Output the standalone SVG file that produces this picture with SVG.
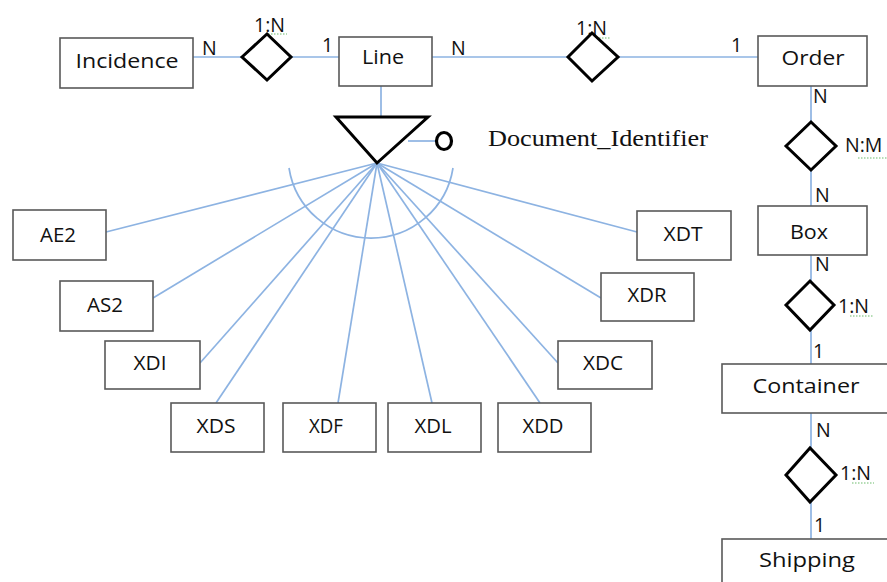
<svg xmlns="http://www.w3.org/2000/svg" width="887" height="582" viewBox="0 0 887 582">
<style>
.ent{fill:#fff;stroke:#595959;stroke-width:1.6}
.rel{fill:#fff;stroke:#000;stroke-width:3;stroke-linejoin:miter}
.con{stroke:#8db3e2;stroke-width:1.7;fill:none}
.t{font-family:"Open Sans","Lato",sans-serif;font-size:20px;fill:#111;text-anchor:middle}
.l{font-family:"Open Sans","Lato",sans-serif;font-size:19.5px;fill:#111}
.g{stroke:#6dbb6d;stroke-width:1.2;stroke-dasharray:1.5 1.5;fill:none}
.s{font-family:"Liberation Serif","Times New Roman",serif;font-size:23px;fill:#111}
</style>
<rect width="887" height="582" fill="#fff"/>
<g id="connectors">
<line class="con" x1="193" y1="57" x2="242" y2="57"/>
<line class="con" x1="291" y1="57" x2="339" y2="57"/>
<line class="con" x1="432" y1="57" x2="568" y2="57"/>
<line class="con" x1="618" y1="57" x2="758" y2="57"/>
<line class="con" x1="811" y1="86" x2="811" y2="122"/>
<line class="con" x1="811" y1="170" x2="811" y2="206"/>
<line class="con" x1="811" y1="255" x2="811" y2="281"/>
<line class="con" x1="811" y1="330" x2="811" y2="364"/>
<line class="con" x1="811" y1="413" x2="811" y2="448"/>
<line class="con" x1="811" y1="502" x2="811" y2="539"/>
<line class="con" x1="381" y1="86" x2="381" y2="117"/>
<line class="con" x1="408" y1="141" x2="436" y2="141"/>
<line class="con" x1="377" y1="163" x2="106" y2="232"/>
<line class="con" x1="377" y1="163" x2="153" y2="298"/>
<line class="con" x1="377" y1="163" x2="200" y2="363"/>
<line class="con" x1="377" y1="163" x2="216" y2="403"/>
<line class="con" x1="377" y1="163" x2="338" y2="403"/>
<line class="con" x1="377" y1="163" x2="432" y2="403"/>
<line class="con" x1="377" y1="163" x2="540" y2="403"/>
<line class="con" x1="377" y1="163" x2="558" y2="363"/>
<line class="con" x1="377" y1="163" x2="601" y2="298"/>
<line class="con" x1="377" y1="163" x2="637" y2="232"/>
<path class="con" d="M289 168 A83 83 0 0 0 453 168"/>
</g>
<g id="labels">
<text class="l" x="202" y="55">N</text>
<text class="l" x="322" y="52">1</text>
<text class="l" x="254" y="32">1:N</text>
<line class="g" x1="268" y1="34" x2="287" y2="34"/>
<text class="l" x="451" y="55">N</text>
<text class="l" x="731" y="52">1</text>
<text class="l" x="576" y="35">1:N</text>
<line class="g" x1="593" y1="38" x2="610" y2="38"/>
<text class="l" x="813" y="103">N</text>
<text class="l" x="845" y="152">N:M</text>
<line class="g" x1="858" y1="158" x2="887" y2="158"/>
<text class="l" x="815" y="202">N</text>
<text class="l" x="815" y="271">N</text>
<text class="l" x="838" y="313">1:N</text>
<line class="g" x1="850" y1="316" x2="873" y2="316"/>
<text class="l" x="813" y="358">1</text>
<text class="l" x="816" y="437">N</text>
<text class="l" x="840" y="480">1:N</text>
<line class="g" x1="852" y1="483" x2="874" y2="483"/>
<text class="l" x="814" y="532">1</text>
<text class="s" x="488" y="146" textLength="220" lengthAdjust="spacingAndGlyphs">Document_Identifier</text>
</g>
<g id="rel1"><polygon class="rel" points="242,57 267,34 291,57 267,80"/></g>
<g id="rel2"><polygon class="rel" points="568,57 592,33 618,57 592,81"/></g>
<g id="rel3"><polygon class="rel" points="786,146 811,122 836,146 811,170"/></g>
<g id="rel4"><polygon class="rel" points="786,305 810,281 834,305 810,330"/></g>
<g id="rel5"><polygon class="rel" points="786,475 810,448 836,475 810,502"/></g>
<g id="isa"><polygon class="rel" points="336,117 428,117 377,163"/><ellipse cx="444" cy="141" rx="7.5" ry="8.5" fill="none" stroke="#000" stroke-width="3.2"/></g>
<g id="incidence"><rect class="ent" x="60" y="38" width="133" height="50"/><text class="t" x="127" y="68" textLength="103" lengthAdjust="spacingAndGlyphs">Incidence</text></g>
<g id="line"><rect class="ent" x="339" y="37" width="93" height="49"/><text class="t" x="383" y="64" textLength="42" lengthAdjust="spacingAndGlyphs">Line</text></g>
<g id="order"><rect class="ent" x="758" y="36" width="109" height="50"/><text class="t" x="813" y="65" textLength="63" lengthAdjust="spacingAndGlyphs">Order</text></g>
<g id="box"><rect class="ent" x="758" y="206" width="109" height="49"/><text class="t" x="809" y="239" textLength="38" lengthAdjust="spacingAndGlyphs">Box</text></g>
<g id="container"><rect class="ent" x="722" y="364" width="180" height="49"/><text class="t" x="806" y="393" textLength="107" lengthAdjust="spacingAndGlyphs">Container</text></g>
<g id="shipping"><rect class="ent" x="722" y="539" width="180" height="60"/><text class="t" x="807" y="567" textLength="96" lengthAdjust="spacingAndGlyphs">Shipping</text></g>
<g id="ae2"><rect class="ent" x="13" y="210" width="93" height="50"/><text class="t" x="58" y="242" textLength="36" lengthAdjust="spacingAndGlyphs">AE2</text></g>
<g id="as2"><rect class="ent" x="60" y="281" width="93" height="50"/><text class="t" x="105" y="312" textLength="36" lengthAdjust="spacingAndGlyphs">AS2</text></g>
<g id="xdi"><rect class="ent" x="105" y="341" width="95" height="48"/><text class="t" x="150" y="370" textLength="33" lengthAdjust="spacingAndGlyphs">XDI</text></g>
<g id="xds"><rect class="ent" x="171" y="403" width="93" height="49"/><text class="t" x="216" y="433" textLength="39" lengthAdjust="spacingAndGlyphs">XDS</text></g>
<g id="xdf"><rect class="ent" x="283" y="403" width="93" height="49"/><text class="t" x="326" y="433" textLength="34" lengthAdjust="spacingAndGlyphs">XDF</text></g>
<g id="xdl"><rect class="ent" x="388" y="403" width="93" height="49"/><text class="t" x="433" y="433" textLength="37" lengthAdjust="spacingAndGlyphs">XDL</text></g>
<g id="xdd"><rect class="ent" x="498" y="403" width="93" height="49"/><text class="t" x="543" y="433" textLength="41" lengthAdjust="spacingAndGlyphs">XDD</text></g>
<g id="xdc"><rect class="ent" x="558" y="341" width="94" height="48"/><text class="t" x="603" y="370" textLength="40" lengthAdjust="spacingAndGlyphs">XDC</text></g>
<g id="xdr"><rect class="ent" x="601" y="273" width="93" height="48"/><text class="t" x="647" y="302" textLength="39" lengthAdjust="spacingAndGlyphs">XDR</text></g>
<g id="xdt"><rect class="ent" x="637" y="211" width="94" height="49"/><text class="t" x="683" y="241" textLength="39" lengthAdjust="spacingAndGlyphs">XDT</text></g>
</svg>
